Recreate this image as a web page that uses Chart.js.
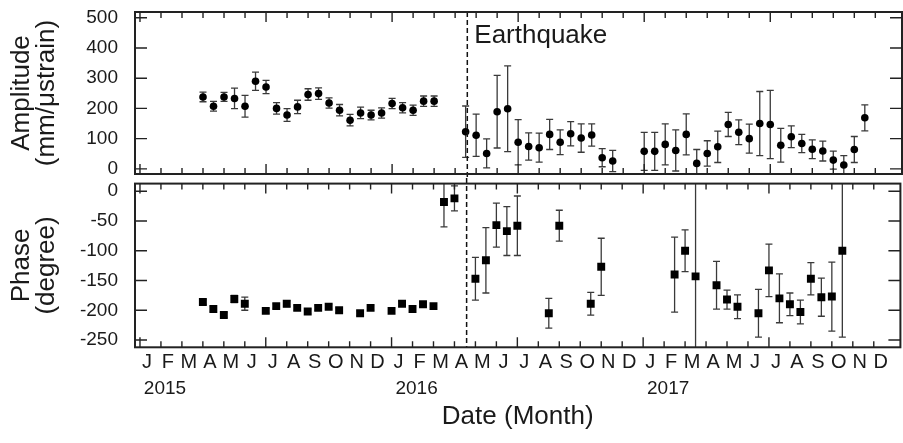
<!DOCTYPE html>
<html>
<head>
<meta charset="utf-8">
<script src="https://cdn.jsdelivr.net/npm/chart.js@4/dist/chart.umd.min.js"></script>
<style>
  html, body { margin:0; padding:0; overflow:hidden; background:#fff; width:903px; height:443px; }
  #top { position:absolute; left:0; top:0; }
  #bottom { position:absolute; left:0; top:178px; }
</style>
</head>
<body>
<canvas id="top" width="906" height="178"></canvas>
<canvas id="bottom" width="906" height="265"></canvas>
<script>
// ------------------- Data (months counted from Jan 2015) -------------------
const monthLetters = ['J','F','M','A','M','J','J','A','S','O','N','D'];
const yearLabels = ['2015','2016','2017'];
const quakeMonth = 15.58;

const ampMonth = [3,3.5,4,4.5,5,5.5,6,6.5,7,7.5,8,8.5,9,9.5,10,10.5,11,11.5,12,12.5,13,13.5,14,
  15.5,16,16.5,17,17.5,18,18.5,19,19.5,20,20.5,21,21.5,22,22.5,
  24,24.5,25,25.5,26,26.5,27,27.5,28,28.5,29,29.5,30,30.5,31,31.5,32,32.5,33,33.5,34,34.5];
const ampValue = [238,207,238,233,207,290,271,200,178,205,246,249,218,194,161,185,178,185,216,202,194,224,224,
  123,111,51,189,199,88,74,70,114,88,116,102,112,37,26,
  58,58,81,61,114,18,51,73,147,121,100,150,147,78,106,84,65,59,29,13,64,169];
const ampErr = [16,16,15,34,36,30,22,19,21,22,19,19,17,19,19,19,16,17,17,17,17,17,17,
  85,70,48,120,142,75,45,48,50,41,40,47,37,30,35,
  63,63,68,68,68,46,42,52,40,41,48,106,113,56,36,30,31,33,30,31,43,43];

const phaseMonth = [3,3.5,4,4.5,5,6,6.5,7,7.5,8,8.5,9,9.5,10.5,11,12,12.5,13,13.5,14,14.5,15,
  16,16.5,17,17.5,18,19.5,20,21.5,22,
  25.5,26,26.5,27.5,28,28.5,29.5,30,30.5,31,31.5,32,32.5,33,33.5];
const phaseValue = [-186,-198,-208,-181,-189,-201,-193,-189,-196,-202,-196,-194,-200,-205,-196,-201,-189,-198,-190,-193,-18,-12,
  -147,-116,-57,-67,-58,-205,-58,-189,-127,
  -140,-100,-143,-158,-182,-194,-205,-133,-180,-190,-203,-147,-178,-177,-100];
const phaseErr = [4,4,4,6,11,4,4,5,4,4,4,4,4,4,4,4,4,4,4,4,42,21,
  36,55,37,41,50,25,26,19,48,
  63,35,200,40,16,20,40,44,41,19,20,27,32,58,145];

// ------------------- Shared look -------------------
Chart.defaults.font.family = "'Liberation Sans', Arial, sans-serif";
Chart.defaults.color = '#1a1a1a';
const xMin = -0.237, xMax = 36.27;
const ink = '#1a1a1a';

// ------------------- Plugins -------------------
const errorBars = {
  id: 'errorBars',
  beforeDatasetsDraw(chart){
    const {ctx, chartArea:a, scales:{x, y}} = chart;
    ctx.save();
    ctx.beginPath();
    ctx.rect(a.left, a.top, a.right - a.left, a.bottom - a.top);
    ctx.clip();
    ctx.strokeStyle = '#3a3a3a';
    ctx.lineWidth = 1.3;
    chart.data.datasets[0].data.forEach(p=>{
      const px = x.getPixelForValue(p.x);
      const hi = y.getPixelForValue(p.y + p.e);
      const lo = y.getPixelForValue(p.y - p.e);
      ctx.beginPath();
      ctx.moveTo(px, hi); ctx.lineTo(px, lo);
      ctx.moveTo(px-3.5, hi); ctx.lineTo(px+3.5, hi);
      ctx.moveTo(px-3.5, lo); ctx.lineTo(px+3.5, lo);
      ctx.stroke();
    });
    ctx.restore();
  }
};

const frame = {
  id: 'frame',
  afterDraw(chart){
    const {ctx, chartArea:a, scales:{x, y}} = chart;
    ctx.save();
    ctx.strokeStyle = '#222';
    ctx.lineWidth = 2;
    ctx.strokeRect(a.left, a.top, a.right - a.left, a.bottom - a.top);
    ctx.lineWidth = 1.4;
    ctx.beginPath();
    for(let m = 0; m < 36; m++){
      const px = x.getPixelForValue(m);
      const len = m % 6 === 0 ? 10 : 6;
      ctx.moveTo(px, a.top); ctx.lineTo(px, a.top + len);
      ctx.moveTo(px, a.bottom); ctx.lineTo(px, a.bottom - len);
    }
    y.ticks.forEach(t=>{
      const py = y.getPixelForValue(t.value);
      ctx.moveTo(a.left, py); ctx.lineTo(a.left + 12, py);
      ctx.moveTo(a.right, py); ctx.lineTo(a.right - 12, py);
    });
    ctx.stroke();
    ctx.restore();
  }
};

const quake = {
  id: 'quake',
  afterDatasetsDraw(chart, args, opts){
    const {ctx, chartArea:a, scales:{x}} = chart;
    const px = x.getPixelForValue(quakeMonth);
    ctx.save();
    ctx.strokeStyle = '#111';
    ctx.lineWidth = 1.5;
    ctx.setLineDash([5,3]);
    ctx.beginPath();
    ctx.moveTo(px, opts.upToEdge ? 0 : a.top);
    ctx.lineTo(px, opts.downToEdge ? chart.height : a.bottom);
    ctx.stroke();
    if(opts.label){
      ctx.setLineDash([]);
      ctx.fillStyle = ink;
      ctx.font = "26px 'Liberation Sans', Arial, sans-serif";
      ctx.textBaseline = 'alphabetic';
      ctx.fillText(opts.label, px + 7, a.top + 31);
    }
    ctx.restore();
  }
};

function yAxis(min, max, step, title){
  return {
    min, max,
    grid:{display:false, drawTicks:false}, border:{display:false},
    ticks:{stepSize:step, includeBounds:false, padding:17, font:{size:19}, color:ink,
      callback:v=>String(v)},
    title:{display:true, text:title, color:ink, font:{size:26, lineHeight:0.98}, padding:{top:9, bottom:0}},
    afterFit:s=>{ s.width = 135; s.paddingTop = 0; s.paddingBottom = 0; }
  };
}

// ------------------- Amplitude panel -------------------
new Chart(document.getElementById('top'), {
  type:'scatter',
  data:{ datasets:[{
    data: ampMonth.map((m,i)=>({x:m, y:ampValue[i], e:ampErr[i]})),
    pointStyle:'circle', pointRadius:3.8, backgroundColor:'#000', borderWidth:0
  }]},
  options:{
    responsive:false, animation:false, events:[],
    layout:{padding:{top:12, right:2, bottom:3, left:0}},
    plugins:{legend:{display:false}, tooltip:{enabled:false},
      quake:{label:'Earthquake', downToEdge:true}},
    scales:{
      x:{type:'linear', display:false, min:xMin, max:xMax},
      y:yAxis(-17, 519, 100, ['Amplitude','(mm/μstrain)'])
    }
  },
  plugins:[errorBars, frame, quake]
});

// ------------------- Phase panel -------------------
new Chart(document.getElementById('bottom'), {
  type:'scatter',
  data:{ datasets:[{
    data: phaseMonth.map((m,i)=>({x:m, y:phaseValue[i], e:phaseErr[i]})),
    pointStyle:'rect', pointRadius:5.6, backgroundColor:'#000', borderWidth:0
  }]},
  options:{
    responsive:false, animation:false, events:[],
    layout:{padding:{top:4, right:2, bottom:0, left:0}},
    plugins:{legend:{display:false}, tooltip:{enabled:false},
      quake:{upToEdge:true}},
    scales:{
      x:{type:'linear', position:'bottom', weight:0, min:xMin, max:xMax,
        grid:{display:false, drawTicks:false}, border:{display:false},
        ticks:{stepSize:1, includeBounds:false, autoSkip:false, maxRotation:0, labelOffset:7, padding:3,
          font:{size:20}, color:ink,
          callback:v=> (v >= 0 && v < 36) ? monthLetters[v % 12] : null},
        afterFit:s=>{ s.height = 26; s.paddingLeft = 0; s.paddingRight = 0; }
      },
      x2:{type:'linear', position:'bottom', weight:1, min:xMin, max:xMax,
        grid:{display:false, drawTicks:false}, border:{display:false},
        ticks:{stepSize:12, includeBounds:false, autoSkip:false, maxRotation:0, labelOffset:25, padding:4,
          font:{size:19}, color:ink,
          callback:v=> (v >= 0 && v/12 < yearLabels.length) ? yearLabels[v/12] : null},
        title:{display:true, text:'Date (Month)', color:ink, font:{size:26, lineHeight:1.2}, padding:{top:0, bottom:11}},
        afterFit:s=>{ s.height = 69.7; s.paddingLeft = 0; s.paddingRight = 0; }
      },
      y:yAxis(-262.2, 12.8, 50, ['Phase','(degree)'])
    }
  },
  plugins:[errorBars, frame, quake]
});
</script>
</body>
</html>
